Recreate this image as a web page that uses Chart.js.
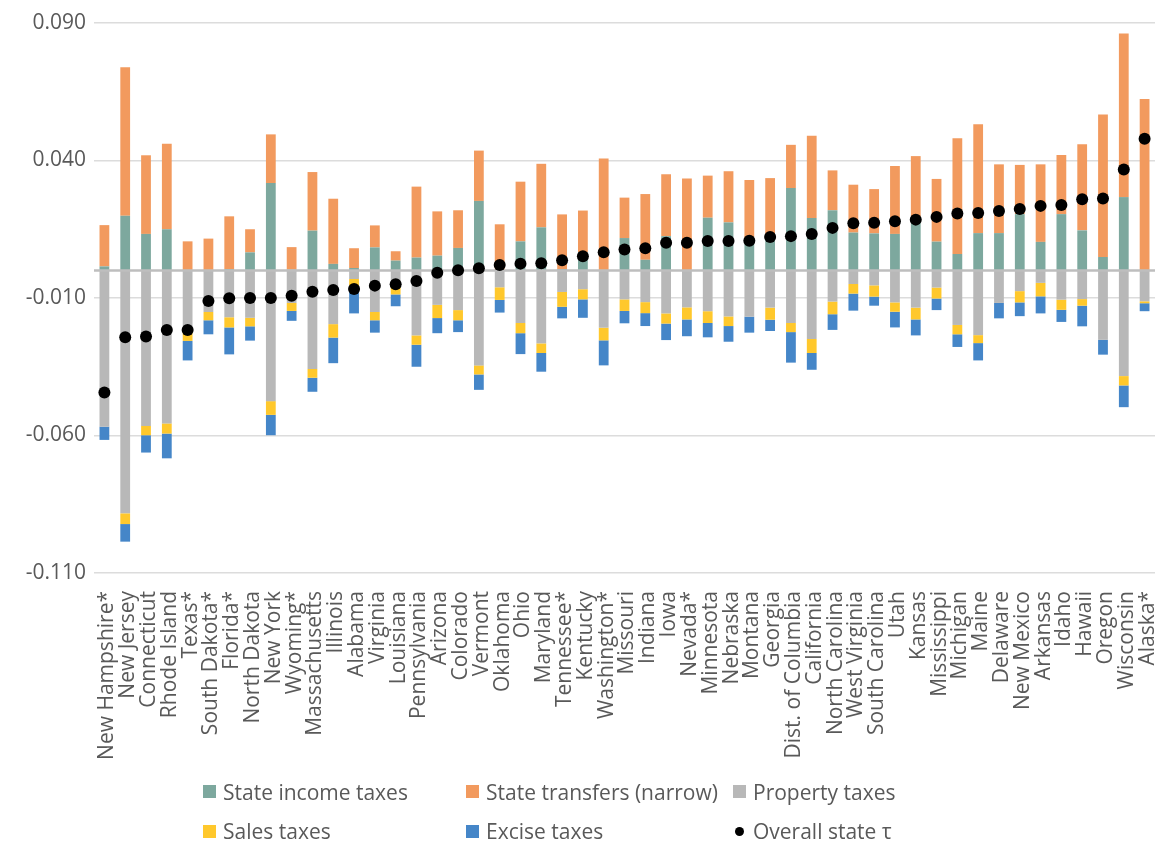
<!DOCTYPE html>
<html>
<head>
<meta charset="utf-8">
<script src="https://cdn.jsdelivr.net/npm/chart.js@4.4.1/dist/chart.umd.min.js"></script>
<style>
  html, body { margin: 0; padding: 0; background: #ffffff; }
  #wrap { position: relative; width: 1161px; height: 842px; overflow: hidden; }
  #chart { position: absolute; left: 0; top: 0; }
  #legend {
    position: absolute; left: 203px; top: 772px;
    display: grid; grid-template-columns: 263px 267px auto; grid-auto-rows: 39.5px;
    font-family: "Open Sans", sans-serif; font-size: 21px; color: #595959;
  }
  .item { display: flex; align-items: center; white-space: nowrap; }
  .sw { width: 13px; height: 13px; margin-right: 7px; flex: none; }
  .dot { width: 9px; height: 9px; border-radius: 50%; margin: 0 9px 0 2px; flex: none; }
</style>
</head>
<body>
<div id="wrap">
  <canvas id="chart" width="1161" height="842"></canvas>
  <div id="legend"></div>
</div>
<script>
const states = ["New Hampshire*","New Jersey","Connecticut","Rhode Island","Texas*","South Dakota*","Florida*","North Dakota","New York","Wyoming*","Massachusetts","Illinois","Alabama","Virginia","Louisiana","Pennsylvania","Arizona","Colorado","Vermont","Oklahoma","Ohio","Maryland","Tennessee*","Kentucky","Washington*","Missouri","Indiana","Iowa","Nevada*","Minnesota","Nebraska","Montana","Georgia","Dist. of Columbia","California","North Carolina","West Virginia","South Carolina","Utah","Kansas","Mississippi","Michigan","Maine","Delaware","New Mexico","Arkansas","Idaho","Hawaii","Oregon","Wisconsin","Alaska*"];

const incomeTaxes = [0.0015,0.0199,0.0133,0.0150,0,0,0.0005,0.0066,0.0318,0.0003,0.0145,0.0024,0.0009,0.0084,0.0036,0.0047,0.0054,0.0082,0.0253,0.0003,0.0106,0.0157,0.0005,0.0067,0,0.0118,0.0039,0.0125,0,0.0192,0.0175,0.0117,0.0115,0.0300,0.0191,0.0219,0.0138,0.0135,0.0133,0.0178,0.0105,0.0060,0.0136,0.0136,0.0205,0.0104,0.0205,0.0146,0.0049,0.0267,0];

const stateTransfers = [0.0150,0.0540,0.0286,0.0311,0.0106,0.0116,0.0192,0.0084,0.0177,0.0082,0.0213,0.0237,0.0072,0.0080,0.0034,0.0258,0.0161,0.0137,0.0183,0.0165,0.0217,0.0231,0.0199,0.0151,0.0407,0.0147,0.0239,0.0225,0.0335,0.0153,0.0186,0.0212,0.0221,0.0157,0.0299,0.0145,0.0174,0.0161,0.0247,0.0238,0.0228,0.0421,0.0396,0.0250,0.0179,0.0282,0.0215,0.0313,0.0518,0.0595,0.0624];

const propertyTaxes = [-0.0568,-0.0883,-0.0565,-0.0556,-0.0220,-0.0151,-0.0170,-0.0172,-0.0475,-0.0118,-0.0358,-0.0195,-0.0031,-0.0151,-0.0056,-0.0236,-0.0125,-0.0144,-0.0345,-0.0061,-0.0191,-0.0265,-0.0078,-0.0068,-0.0208,-0.0105,-0.0115,-0.0156,-0.0134,-0.0148,-0.0167,-0.0168,-0.0135,-0.0191,-0.0249,-0.0113,-0.0049,-0.0054,-0.0116,-0.0135,-0.0062,-0.0198,-0.0235,-0.0118,-0.0075,-0.0045,-0.0106,-0.0104,-0.0252,-0.0384,-0.0112];

const salesTaxes = [0,-0.0039,-0.0034,-0.0037,-0.0036,-0.0030,-0.0037,-0.0031,-0.0050,-0.0029,-0.0032,-0.0049,-0.0040,-0.0030,-0.0031,-0.0034,-0.0048,-0.0037,-0.0033,-0.0046,-0.0037,-0.0035,-0.0054,-0.0037,-0.0046,-0.0042,-0.0040,-0.0037,-0.0044,-0.0043,-0.0035,0,-0.0044,-0.0033,-0.0051,-0.0046,-0.0035,-0.0041,-0.0034,-0.0043,-0.0040,-0.0034,-0.0029,0,-0.0041,-0.0049,-0.0037,-0.0024,0,-0.0034,-0.0007];

const exciseTaxes = [-0.0048,-0.0064,-0.0063,-0.0090,-0.0071,-0.0051,-0.0098,-0.0052,-0.0074,-0.0036,-0.0051,-0.0093,-0.0085,-0.0045,-0.0043,-0.0080,-0.0055,-0.0043,-0.0056,-0.0046,-0.0076,-0.0068,-0.0042,-0.0067,-0.0091,-0.0045,-0.0047,-0.0060,-0.0061,-0.0052,-0.0057,-0.0058,-0.0041,-0.0111,-0.0061,-0.0057,-0.0062,-0.0033,-0.0057,-0.0058,-0.0042,-0.0046,-0.0063,-0.0056,-0.0050,-0.0062,-0.0044,-0.0075,-0.0054,-0.0079,-0.0029];

const overallTau = [-0.0444,-0.0243,-0.0240,-0.0216,-0.0216,-0.0111,-0.0101,-0.0100,-0.0100,-0.0092,-0.0077,-0.0071,-0.0067,-0.0055,-0.0050,-0.0038,-0.0008,0.0001,0.0008,0.0020,0.0025,0.0026,0.0037,0.0052,0.0066,0.0076,0.0081,0.0101,0.0101,0.0107,0.0107,0.0108,0.0122,0.0125,0.0133,0.0155,0.0172,0.0174,0.0179,0.0185,0.0195,0.0207,0.0209,0.0216,0.0224,0.0235,0.0238,0.0259,0.0262,0.0367,0.0479];

const yTicks = [-0.110, -0.060, -0.010, 0.040, 0.090];

const TEXT = '#595959';
const FONT = '"Open Sans", sans-serif';

function barSet(label, data, color) {
  return {
    type: 'bar', label, data,
    backgroundColor: color, borderWidth: 0,
    barPercentage: 0.47, categoryPercentage: 1.0,
    order: 1
  };
}

// Horizontal axis line through zero, drawn over the bars and under the dots
const zeroLine = {
  id: 'zeroLine',
  beforeDatasetDraw(chart, args) {
    if (args.meta.type !== 'line') return;
    const { ctx, chartArea, scales } = chart;
    const y = scales.y.getPixelForValue(0);
    ctx.save();
    ctx.strokeStyle = '#BEBEBE';
    ctx.lineWidth = 2.5;
    ctx.beginPath();
    ctx.moveTo(chartArea.left, y);
    ctx.lineTo(chartArea.right, y);
    ctx.stroke();
    ctx.restore();
  }
};

const chart = new Chart(document.getElementById('chart'), {
  data: {
    labels: states,
    datasets: [
      barSet('State income taxes', incomeTaxes, '#7DA89E'),
      barSet('State transfers (narrow)', stateTransfers, '#F29A5E'),
      barSet('Property taxes', propertyTaxes, '#B8B8B8'),
      barSet('Sales taxes', salesTaxes, '#FFC82C'),
      barSet('Excise taxes', exciseTaxes, '#4586C8'),
      {
        type: 'line', label: 'Overall state \u03C4', data: overallTau,
        showLine: false, stack: 'tau',
        pointRadius: 6, pointHoverRadius: 6,
        pointBackgroundColor: '#000000', pointBorderWidth: 0,
        borderColor: '#000000', backgroundColor: '#000000',
        order: 0
      }
    ]
  },
  options: {
    responsive: false,
    animation: false,
    events: [],
    layout: { padding: { top: 23, right: 0, bottom: 0, left: 0 } },
    plugins: { legend: { display: false }, tooltip: { enabled: false } },
    scales: {
      x: {
        stacked: true,
        grid: { display: false, drawTicks: false },
        border: { display: false },
        ticks: {
          autoSkip: false, maxRotation: 90, minRotation: 90, padding: 18, labelOffset: 3,
          color: TEXT, font: { family: FONT, size: 21 }
        },
        afterFit(scale) { scale.height = 269; scale.paddingLeft = 0; scale.paddingRight = 0; }
      },
      y: {
        stacked: true,
        min: -0.110, max: 0.090,
        afterBuildTicks(scale) { scale.ticks = yTicks.map(v => ({ value: v })); },
        grid: { color: '#DCDCDC', lineWidth: 1.5, drawTicks: false },
        border: { display: false },
        ticks: {
          padding: 8, color: TEXT, font: { family: FONT, size: 21 },
          callback: v => Number(v).toFixed(3)
        },
        afterFit(scale) { scale.width = 94; }
      }
    }
  },
  plugins: [zeroLine]
});

// Legend built from the chart's own datasets, three per row
const legendEl = document.getElementById('legend');
chart.data.datasets.forEach(ds => {
  const item = document.createElement('div');
  item.className = 'item';
  const mark = document.createElement('span');
  mark.className = ds.type === 'line' ? 'dot' : 'sw';
  mark.style.background = ds.type === 'line' ? ds.pointBackgroundColor : ds.backgroundColor;
  const txt = document.createElement('span');
  txt.textContent = ds.label;
  item.appendChild(mark);
  item.appendChild(txt);
  legendEl.appendChild(item);
});
</script>
</body>
</html>
